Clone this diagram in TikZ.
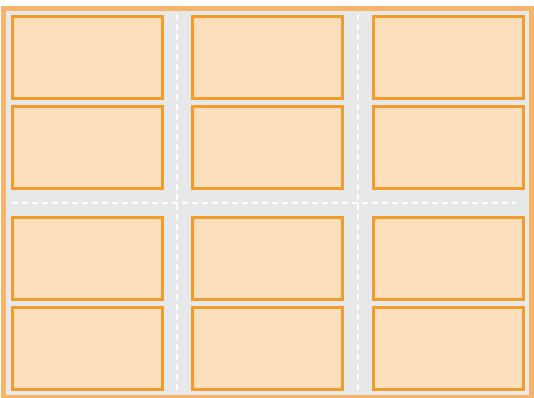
\documentclass[tikz,border=0pt]{standalone}
\usepackage{tikz}
\usetikzlibrary{calc}
\usepackage{xcolor}
\definecolor{frameclr}{RGB}{246, 180, 106}
\definecolor{gapclr}{RGB}{231, 232, 233}
\definecolor{cellclr}{RGB}{251, 222, 187}
\definecolor{celledge}{RGB}{243, 155, 43}
\tikzset{
  % Tashqi ramka
  outerframe/.style = {fill=gapclr, draw=frameclr, line width=5pt},
  % Kataklar
  cellbox/.style    = {fill=cellclr, draw=celledge, line width=2.8pt},
  % Oq uzuq chiziqlar
  gapline/.style    = {draw=white, line width=2.4pt, dash pattern=on 6pt off 4pt},
}

\begin{document}
\begin{tikzpicture}[x=1pt,y=-1pt]
  \useasboundingbox (0,0) rectangle (534,397);
  % Ramka
  \draw[outerframe] (3.5,8.5) rectangle (531.5,397.5);
  % Uzuq chiziqlar
  \draw[gapline] (177,14) -- (177,391);
  \draw[gapline] (358,14) -- (358,391);
  \draw[gapline] (12,203) -- (516,203);
  % Kataklar
  \foreach \x in {11,191,372}
    \foreach \y in {15,105,216,306}
      \draw[cellbox] (\x+1.5,\y+1.5) rectangle (\x+151.5,\y+83.5);
\end{tikzpicture}
\end{document}
